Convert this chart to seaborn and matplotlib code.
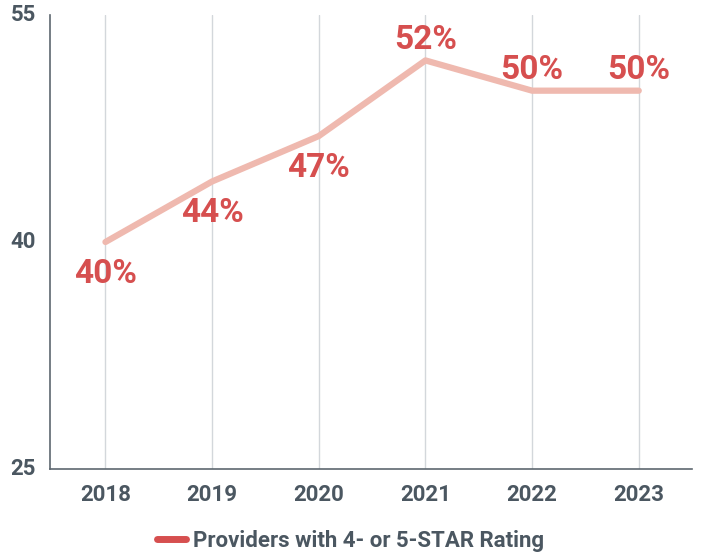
import numpy as np
import pandas as pd
import seaborn as sns
import matplotlib.pyplot as plt

years = ["2018", "2019", "2020", "2021", "2022", "2023"]
share = [40, 44, 47, 52, 50, 50]
labels = ["40%", "44%", "47%", "52%", "50%", "50%"]
label_below = [True, True, True, False, False, False]
series_name = "Providers with 4- or 5-STAR Rating"

df = pd.DataFrame({"year": years, "share": share, "series": series_name})

sns.set_theme(style="white")
plt.rcParams["font.family"] = ["Roboto", "DejaVu Sans"]

line_color = "#efb9af"
label_color = "#d64f4f"
text_color = "#4b5761"

fig = plt.figure(figsize=(7.01, 5.56), dpi=100)
ax = fig.add_axes([0.0713, 0.1565, 0.916, 0.8165])

sns.lineplot(data=df, x="year", y="share", color=line_color, linewidth=4.5,
             solid_capstyle="round", legend=False, ax=ax, sort=False)

# value labels
for i, (val, lab, below) in enumerate(zip(share, labels, label_below)):
    dy = -23 if below else 15
    ax.annotate(lab, (i, val), xytext=(0, dy), textcoords="offset points",
                ha="center", va="center", fontsize=24, fontweight="bold",
                color=label_color)

ax.set_xlim(-0.52, 5.5)
ax.set_ylim(25, 55)
ax.set_yticks([25, 40, 55])
ax.set_xlabel("")
ax.set_ylabel("")

ax.xaxis.grid(True, color="#d3d7db", linewidth=1)
ax.yaxis.grid(False)
for side in ["top", "right"]:
    ax.spines[side].set_visible(False)
for side in ["left", "bottom"]:
    ax.spines[side].set_color("#5d676f")
    ax.spines[side].set_linewidth(1.2)

ax.tick_params(axis="x", length=0, pad=11, labelsize=16, labelcolor=text_color)
ax.tick_params(axis="y", length=0, pad=10, labelsize=16, labelcolor=text_color)
for t in ax.get_xticklabels() + ax.get_yticklabels():
    t.set_fontweight("bold")
for t in ax.get_yticklabels():
    t.set_va("center")

handle = plt.Line2D([], [], color="#d64f4f", linewidth=5, solid_capstyle="round")
leg = fig.legend([handle], [series_name], loc="center", bbox_to_anchor=(0.5, 0.027),
                 frameon=False, handlelength=1.3, handletextpad=0.3,
                 prop={"size": 16, "weight": "bold"})
for t in leg.get_texts():
    t.set_color(text_color)

fig.savefig("out.png", dpi=100)
